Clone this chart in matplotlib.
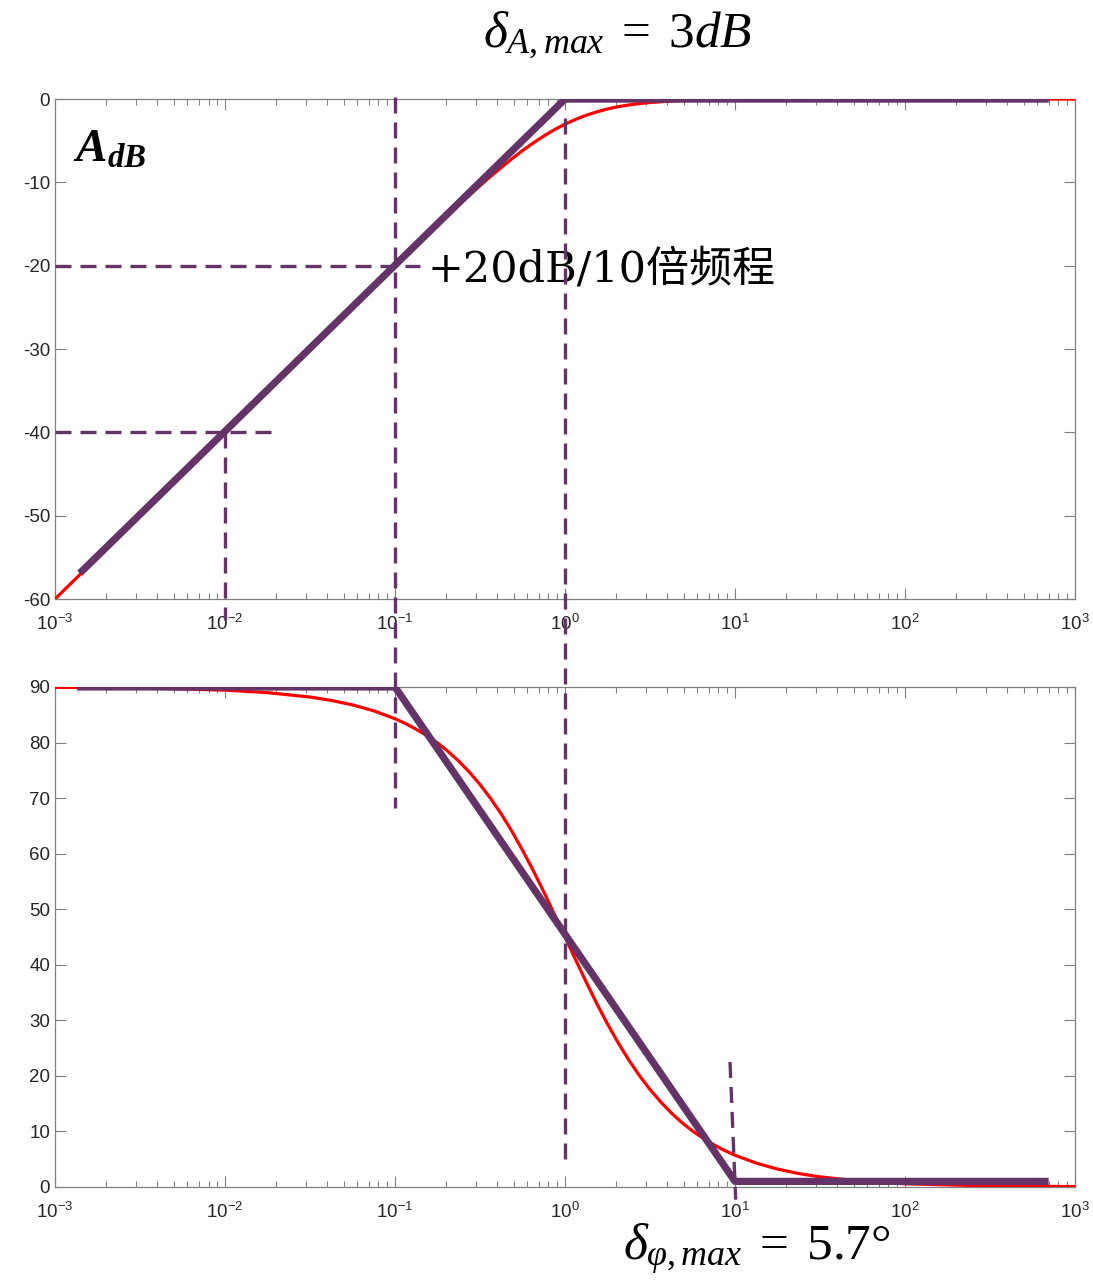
import numpy as np
import matplotlib.pyplot as plt
from matplotlib.transforms import blended_transform_factory

plt.rcParams['font.family'] = ['Liberation Sans', 'DejaVu Sans']
plt.rcParams['axes.unicode_minus'] = False
plt.rcParams['mathtext.fontset'] = 'custom'
plt.rcParams['mathtext.rm'] = 'Liberation Serif'
plt.rcParams['mathtext.it'] = 'Liberation Serif:italic'
plt.rcParams['mathtext.bf'] = 'Liberation Serif:italic:bold'

# frequency samples (rad/s)
w_mag = [1e-3, 3.16e-3, 1e-2, 3.16e-2, 0.1, 0.178, 0.237, 0.316, 0.365, 0.422,
         0.487, 0.562, 0.649, 0.75, 0.866, 1.0, 1.155, 1.334, 1.54, 1.778,
         2.054, 2.371, 2.738, 3.162, 4.217, 5.623, 7.499, 10.0, 31.62, 100.0,
         1000.0]
mag_db = [-60.0, -50.0, -40.0, -30.0, -20.04, -15.13, -12.7, -10.41, -9.28, -8.21,
          -7.17, -6.19, -5.28, -4.44, -3.68, -3.01, -2.44, -1.94, -1.53, -1.19,
          -0.91, -0.71, -0.54, -0.41, -0.24, -0.135, -0.08, -0.043, -0.004, 0.0,
          0.0]

# frequency samples (rad/s)
w_ph = [1e-3, 3.16e-3, 1e-2, 1.78e-2, 3.16e-2, 4.22e-2, 5.62e-2, 7.5e-2, 0.1,
        0.115, 0.133, 0.154, 0.178, 0.205, 0.237, 0.274, 0.316, 0.365, 0.422,
        0.487, 0.562, 0.649, 0.75, 0.866, 1.0, 1.155, 1.334, 1.54, 1.778,
        2.054, 2.371, 2.738, 3.162, 3.652, 4.217, 4.87, 5.623, 6.494, 7.499,
        8.66, 10.0, 13.34, 17.78, 23.71, 31.62, 56.23, 100.0, 316.2, 1000.0]
phase_deg = [89.94, 89.82, 89.43, 88.98, 88.19, 87.58, 86.78, 85.71, 84.29,
             83.44, 82.40, 81.24, 79.92, 78.41, 76.66, 74.67, 72.45, 69.94, 67.13,
             64.03, 60.65, 57.02, 53.13, 49.10, 45.0, 40.90, 36.87, 32.98, 29.35,
             25.97, 22.87, 20.06, 17.55, 15.33, 13.34, 11.59, 10.08, 8.76, 7.60,
             6.59, 5.71, 4.29, 3.22, 2.41, 1.81, 1.02, 0.57, 0.18, 0.06]

# straight-line asymptotes (purple)
mag_asym_w = [1.4e-3, 1.0, 700.0]
mag_asym_db = [-56.9, 0.0, 0.0]
ph_asym_w = [1.35e-3, 0.1, 10.0, 700.0]
ph_asym_deg = [90.0, 90.0, 1.0, 1.0]

mag_yticks = [0, -10, -20, -30, -40, -50, -60]
ph_yticks = [0, 10, 20, 30, 40, 50, 60, 70, 80, 90]

red = '#ff0000'
purple = '#643468'
dash = dict(color=purple, lw=2.4, linestyle=(0, (4.8, 2.7)))

fig = plt.figure(figsize=(10.93, 12.8), dpi=100)
ax1 = fig.add_axes([0.0503, 0.532, 0.9332, 0.3906])
ax2 = fig.add_axes([0.0503, 0.0727, 0.9332, 0.3906])

for ax in (ax1, ax2):
    ax.set_xscale('log')
    ax.set_xlim(1e-3, 1e3)
    ax.tick_params(which='both', direction='in', top=True, right=True,
                   colors='#808080', labelcolor='#262626', labelsize=13.5)
    ax.tick_params(which='major', length=8, width=0.8)
    ax.tick_params(which='minor', length=4.5, width=0.8)
    ax.tick_params(axis='x', pad=11)
    for s in ax.spines.values():
        s.set_color('#808080')
        s.set_linewidth(0.9)

# top: magnitude
ax1.plot(w_mag, mag_db, color=red, lw=2.3, zorder=3)
ax1.plot(mag_asym_w, mag_asym_db, color=purple, lw=5.2, zorder=4,
         solid_capstyle='butt')
ax1.set_ylim(-60, 0)
ax1.set_yticks(mag_yticks)
ax1.plot([1e-3, 0.14], [-20, -20], clip_on=False, zorder=5, **dash)
ax1.plot([1e-3, 0.019], [-40, -40], clip_on=False, zorder=5, **dash)
ax1.plot([0.01, 0.01], [-40, -62.5], clip_on=False, zorder=5, **dash)
ax1.text(0.018, 0.875, r'$\mathbf{A_{dB}}$', transform=ax1.transAxes,
         fontsize=34, ha='left', va='baseline')
ax1.text(0.156, -20.4, '+20dB/10倍频程', fontsize=31, ha='left', va='center',
         family=['DejaVu Serif', 'Noto Sans CJK SC'])

# bottom: phase
ax2.plot(w_ph, phase_deg, color=red, lw=2.3, zorder=3)
ax2.plot(ph_asym_w, ph_asym_deg, color=purple, lw=5.2, zorder=4,
         solid_capstyle='butt')
ax2.set_ylim(0, 90)
ax2.set_yticks(ph_yticks)
ax2.plot([9.35, 10.1], [22.5, -2.3], clip_on=False, zorder=5, **dash)

# guide lines running through both panels (x in data, y in figure fraction)
tr = blended_transform_factory(ax2.transData, fig.transFigure)
for xa, y_top, y_bot in [(0.1, 0.924, 0.369), (1.0, 0.908, 0.094)]:
    ax2.plot([xa, xa], [y_top, y_bot], transform=tr, clip_on=False,
             zorder=5, **dash)

fig.text(0.565, 0.972, r'$\delta_{A,max}\;=\;3dB$', fontsize=37,
         ha='center', va='center')
fig.text(0.692, 0.024, r'$\delta_{\varphi,max}\;=\;\mathrm{5.7°}$', fontsize=37,
         ha='center', va='center')

fig.savefig('out.png', dpi=100)
